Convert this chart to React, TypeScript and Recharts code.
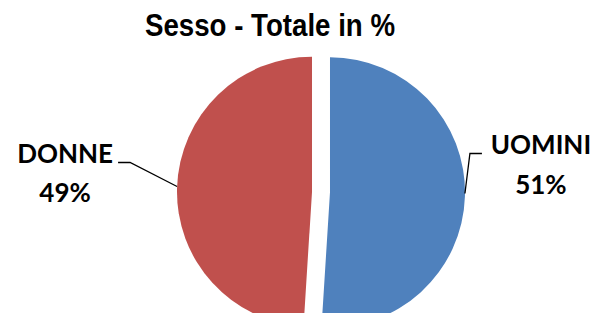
import React from 'react';
import { PieChart, Pie, Cell } from 'recharts';

const categories = ['UOMINI', 'DONNE'];
const values = [51, 49];
const colors = ['#4F81BD', '#C0504D'];
const title = 'Sesso - Totale in %';

const CX = 321;
const CY = 192;
const RADIUS = 135;
const EXPLODE = 9;
const RAD = Math.PI / 180;

const total = values.reduce((a, b) => a + b, 0);
let cursor = 90;
const slices = values.map((v, i) => {
  const sweep = (v / total) * 360;
  const startAngle = cursor;
  const endAngle = cursor - sweep;
  cursor = endAngle;
  const mid = (startAngle + endAngle) / 2;
  return { name: categories[i], value: v, startAngle, endAngle, mid, color: colors[i] };
});

const labelFont = { fontFamily: 'Lato, "Open Sans", sans-serif', fontWeight: 700, fontSize: 26, fill: '#000' };

const renderLabel = (p: any) => {
  const ex = p.cx + p.outerRadius * Math.cos(-p.midAngle * RAD);
  const ey = p.cy + p.outerRadius * Math.sin(-p.midAngle * RAD);
  const right = Math.cos(-p.midAngle * RAD) > 0;
  const name = p.name ?? p.payload?.name;
  const value = p.value ?? p.payload?.value;
  if (right) {
    return (
      <g>
        <polyline points={`${ex},${ey - 3} ${ex + 5},${ey - 43} ${ex + 17},${ey - 43}`} fill="none" stroke="#000" strokeWidth={1.3} />
        <text x={ex + 76} y={ey - 43} textAnchor="middle" style={labelFont}>{name}</text>
        <text x={ex + 76} y={ey - 3} textAnchor="middle" style={labelFont}>{value}%</text>
      </g>
    );
  }
  return (
    <g>
      <polyline points={`${ex},${ey - 1} ${ex - 47},${ey - 25} ${ex - 59},${ey - 25}`} fill="none" stroke="#000" strokeWidth={1.3} />
      <text x={ex - 112} y={ey - 24} textAnchor="middle" style={labelFont}>{name}</text>
      <text x={ex - 112} y={ey + 15} textAnchor="middle" style={labelFont}>{value}%</text>
    </g>
  );
};

export default function App() {
  return (
    <div style={{ margin: -8, width: 600, height: 321, background: '#fff', overflow: 'hidden' }}>
      <PieChart width={600} height={321} margin={{ top: 0, right: 0, bottom: 0, left: 0 }}>
        <text
          x={270}
          y={36}
          textAnchor="middle"
          textLength={250}
          lengthAdjust="spacingAndGlyphs"
          style={{ fontFamily: '"Liberation Sans", Arial, sans-serif', fontWeight: 700, fontSize: 31, fill: '#000' }}
        >
          {title}
        </text>
        {slices.map((s) => (
          <Pie
            key={s.name}
            data={[s]}
            dataKey="value"
            nameKey="name"
            cx={CX + EXPLODE * Math.cos(-s.mid * RAD)}
            cy={CY + EXPLODE * Math.sin(-s.mid * RAD)}
            outerRadius={RADIUS}
            startAngle={s.startAngle}
            endAngle={s.endAngle}
            stroke="none"
            label={renderLabel}
            labelLine={false}
            isAnimationActive={false}
          >
            <Cell fill={s.color} />
          </Pie>
        ))}
      </PieChart>
    </div>
  );
}
